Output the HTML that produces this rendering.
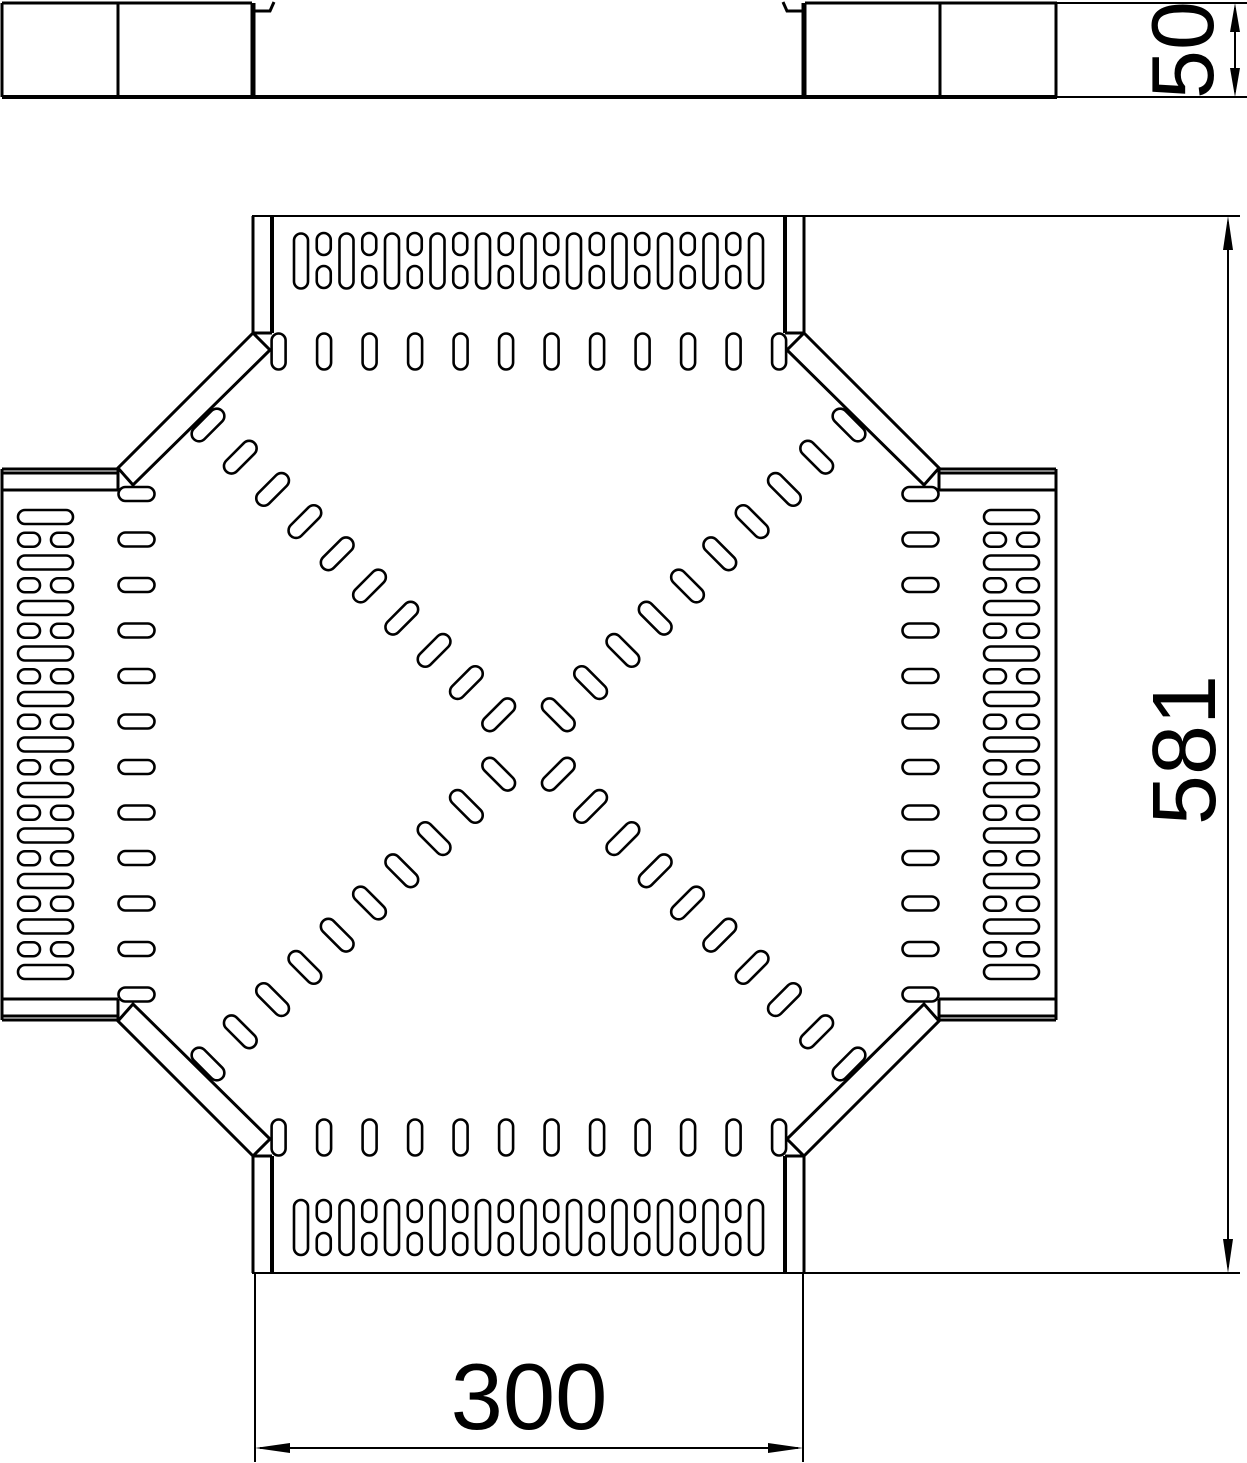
<!DOCTYPE html>
<html><head><meta charset="utf-8"><style>
html,body{margin:0;padding:0;background:#fff;width:1247px;height:1463px;overflow:hidden}
svg{display:block}
text{font-family:"Liberation Sans",sans-serif;fill:#000}
</style></head><body>
<svg id="s" width="1247" height="1463" viewBox="0 0 1247 1463" xmlns="http://www.w3.org/2000/svg">
<g fill="none" stroke="#000" stroke-width="3" stroke-linejoin="miter">
<!-- top view -->
<line x1="2" y1="3" x2="252" y2="3"/>
<line x1="2" y1="97" x2="1057" y2="97" stroke-width="4"/>
<line x1="2" y1="3" x2="2" y2="97"/>
<line x1="118" y1="3" x2="118" y2="97"/>
<line x1="253" y1="3" x2="253" y2="97" stroke-width="5"/>
<path d="M255 11 L270 11 L274 2" stroke-width="3"/>
<line x1="805" y1="3" x2="1057" y2="3"/>
<line x1="804" y1="3" x2="804" y2="97" stroke-width="5"/>
<path d="M802 11 L787 11 L783 2" stroke-width="3"/>
<line x1="940" y1="3" x2="940" y2="97"/>
<line x1="1056" y1="3" x2="1056" y2="97"/>
<line x1="1057" y1="3" x2="1247" y2="3" stroke-width="2"/>
<line x1="1057" y1="97" x2="1247" y2="97" stroke-width="2"/>
<line x1="1235" y1="8" x2="1235" y2="92" stroke-width="2"/>

<!-- plan outline -->
<line x1="252" y1="216" x2="1240" y2="216" stroke-width="2"/>
<line x1="252" y1="1273" x2="1240" y2="1273" stroke-width="2"/>
<line x1="253" y1="216" x2="253" y2="333"/><line x1="272" y1="216" x2="272" y2="333" stroke-width="4"/>
<line x1="253" y1="333" x2="272" y2="333"/>
<line x1="785" y1="216" x2="785" y2="333" stroke-width="4"/><line x1="804" y1="216" x2="804" y2="333"/>
<line x1="785" y1="333" x2="804" y2="333"/>
<line x1="253" y1="1156" x2="253" y2="1273"/><line x1="272" y1="1156" x2="272" y2="1273" stroke-width="4"/>
<line x1="253" y1="1156" x2="272" y2="1156"/>
<line x1="785" y1="1156" x2="785" y2="1273" stroke-width="4"/><line x1="804" y1="1156" x2="804" y2="1273"/>
<line x1="785" y1="1156" x2="804" y2="1156"/>
<path d="M253 333 L118 468 L133 485 L270 350 Z"/>
<path d="M804 333 L939 468 L924 485 L787 350 Z"/>
<path d="M253 1156 L118 1021 L133 1004 L270 1139 Z"/>
<path d="M804 1156 L939 1021 L924 1004 L787 1139 Z"/>
<line x1="2" y1="469" x2="118" y2="469"/>
<line x1="2" y1="473" x2="118" y2="473"/>
<line x1="2" y1="490" x2="118" y2="490"/>
<line x1="118" y1="469" x2="118" y2="490"/>
<line x1="2" y1="469" x2="2" y2="1020"/>
<line x1="2" y1="1016" x2="118" y2="1016"/>
<line x1="2" y1="1020" x2="118" y2="1020"/>
<line x1="2" y1="999" x2="118" y2="999"/>
<line x1="118" y1="999" x2="118" y2="1020"/>
<line x1="939" y1="469" x2="1056" y2="469"/>
<line x1="939" y1="473" x2="1056" y2="473"/>
<line x1="939" y1="490" x2="1056" y2="490"/>
<line x1="939" y1="469" x2="939" y2="490"/>
<line x1="1056" y1="469" x2="1056" y2="1020"/>
<line x1="939" y1="1016" x2="1056" y2="1016"/>
<line x1="939" y1="1020" x2="1056" y2="1020"/>
<line x1="939" y1="999" x2="1056" y2="999"/>
<line x1="939" y1="999" x2="939" y2="1020"/>
<line x1="1228" y1="222" x2="1228" y2="1267" stroke-width="2"/>
<line x1="255" y1="1273" x2="255" y2="1462" stroke-width="2"/>
<line x1="803" y1="1273" x2="803" y2="1462" stroke-width="2"/>
<line x1="260" y1="1448" x2="798" y2="1448" stroke-width="2"/>
<g id="slots" stroke-width="2.6"></g>
</g>
<g fill="#000">
<polygon points="1235,3 1230,32 1240,32"/>
<polygon points="1235,97 1230,68 1240,68"/>
<polygon points="1228,216 1223,250 1233,250"/>
<polygon points="1228,1273 1223,1239 1233,1239"/>
<polygon points="255,1448 290,1443 290,1453"/>
<polygon points="803,1448 768,1443 768,1453"/>
</g>
<text x="0" y="0" font-size="88" text-anchor="middle" transform="translate(1213,50) rotate(-90)">50</text>
<text x="0" y="0" font-size="90" text-anchor="middle" transform="translate(1215,750) rotate(-90)">581</text>
<text x="529" y="1429" font-size="94" text-anchor="middle">300</text>
</svg>
<script>
var g=document.getElementById('slots'),h='';
function r(cx,cy,w,hh,a){h+='<rect x="'+(cx-w/2)+'" y="'+(cy-hh/2)+'" width="'+w+'" height="'+hh+'" rx="'+Math.min(w,hh)/2+'"'+(a?' transform="rotate('+a+' '+cx+' '+cy+')"':'')+'/>';}
var P=45.5,i;
for(i=0;i<12;i++){var x=278.6+i*P;r(x,351.5,14,36);r(x,1137.5,14,36);}
for(i=0;i<12;i++){var y=494+i*P;r(136.5,y,36,14);r(920.5,y,36,14);}
for(i=0;i<11;i++){var x=301+i*P;r(x,261,14,55);r(x,1227.5,14,55);
 if(i<10){var xm=x+P/2;r(xm,244,14,22);r(xm,277,14,22);r(xm,1211,14,22);r(xm,1244,14,22);}}
for(i=0;i<11;i++){var y=517+i*P;r(45.5,y,55,14);r(1011.5,y,55,14);
 if(i<10){var ym=y+P/2;r(29,ym,22,14);r(62,ym,22,14);r(995,ym,22,14);r(1028,ym,22,14);}}
for(i=0;i<10;i++){var dx=i*32.3,dy=i*32.2;
 r(208+dx,425+dy,40,15,-45);
 r(849-dx,425+dy,40,15,45);
 r(208+dx,1064-dy,40,15,45);
 r(849-dx,1064-dy,40,15,-45);}
g.innerHTML=h;
</script>
</body></html>
